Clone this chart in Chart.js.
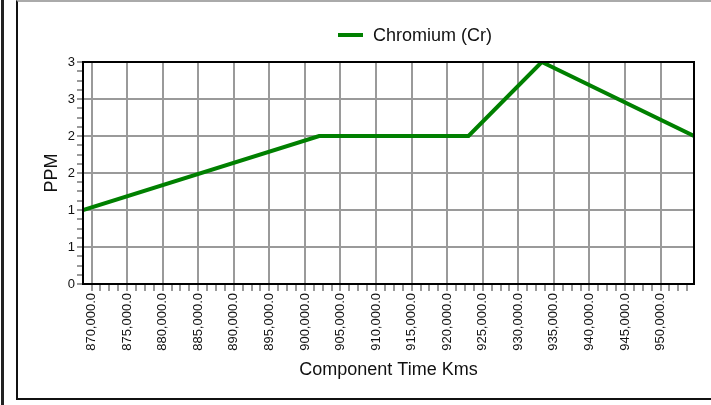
<!DOCTYPE html>
<html>
<head>
<meta charset="utf-8">
<script src="https://cdn.jsdelivr.net/npm/chart.js@4"></script>
<style>
    body { margin: 0; background: #fff; font-family: "Liberation Sans", Arial, sans-serif; }
    #wrap { position: relative; width: 711px; height: 405px; overflow: hidden; }
    #edge { position: absolute; left: 1px; top: 0; width: 3px; height: 405px; background: #222; }
    #frame { position: absolute; left: 16px; top: 0; width: 720px; height: 396px;
             border-left: 2px solid #111; border-bottom: 2px solid #111; border-top: 2px solid #aaa; box-sizing: border-box; height: 400px; }
    #legend { position: absolute; left: 338px; top: 24px; height: 22px; display: flex; align-items: center;
              font-size: 18px; color: #111; white-space: nowrap; }
    #legend span.swatch { display: inline-block; width: 25px; height: 4px; background: #008000; margin-right: 10px; }
    canvas { position: absolute; left: 0; top: 0; }
</style>
</head>
<body>
<div id="wrap">
    <div id="edge"></div>
    <div id="frame"></div>
    <canvas id="chart" width="711" height="405"></canvas>
    <div id="legend"><span class="swatch"></span>Chromium (Cr)</div>
</div>
<script>
// readings
const kms = [868800, 902000, 912500, 923000, 933300, 954700];
const chromium = [1.0, 2.0, 2.0, 2.0, 3.0, 2.0];

const yMajorTicks = [0, 0.5, 1, 1.5, 2, 2.5, 3];
const yTickLabels = ['0', '1', '1', '2', '2', '3', '3'];
const xMajorStep = 5000;
const xMinorStep = 1250;
const yMinorStep = 0.125;

function isMajorX(v) {
    return Math.abs(v % xMajorStep) < 1e-6;
}
function majorYIndex(v) {
    return yMajorTicks.findIndex(t => Math.abs(t - v) < 1e-6);
}

const plotFrame = {
    id: 'plotFrame',
    afterDraw(chart) {
        const a = chart.chartArea;
        const ctx = chart.ctx;
        ctx.save();
        ctx.strokeStyle = '#000';
        ctx.lineWidth = 2;
        ctx.strokeRect(a.left, a.top, a.right - a.left, a.bottom - a.top);
        ctx.restore();
    }
};

const ctx = document.getElementById('chart').getContext('2d');

new Chart(ctx, {
    type: 'line',
    data: {
        datasets: [{
            label: 'Chromium (Cr)',
            data: kms.map((x, i) => ({ x: x, y: chromium[i] })),
            borderColor: '#008000',
            backgroundColor: '#008000',
            borderWidth: 4,
            pointRadius: 0,
            tension: 0
        }]
    },
    options: {
        responsive: false,
        animation: false,
        layout: { padding: { left: 37, right: 17, top: 62, bottom: 20 } },
        plugins: {
            legend: { display: false },
            tooltip: { enabled: false }
        },
        scales: {
            x: {
                type: 'linear',
                min: kms[0],
                max: kms[kms.length - 1],
                afterBuildTicks(scale) {
                    const ticks = [];
                    const start = Math.ceil(scale.min / xMinorStep) * xMinorStep;
                    for (let v = start; v <= scale.max; v += xMinorStep) {
                        ticks.push({ value: v });
                    }
                    scale.ticks = ticks;
                },
                afterFit(scale) { scale.height = 101; },
                border: { display: false },
                grid: {
                    color: c => (c.tick && isMajorX(c.tick.value)) ? '#9a9a9a' : 'rgba(0,0,0,0)',
                    lineWidth: 2,
                    tickColor: '#9a9a9a',
                    tickLength: 7,
                    tickWidth: 2
                },
                ticks: {
                    autoSkip: false,
                    minRotation: 90,
                    maxRotation: 90,
                    padding: 2,
                    color: '#111',
                    font: { family: 'Liberation Sans', size: 13 },
                    callback: v => isMajorX(v)
                        ? v.toLocaleString('en-US', { minimumFractionDigits: 1, maximumFractionDigits: 1 })
                        : ''
                },
                title: {
                    display: true,
                    text: 'Component Time Kms',
                    color: '#111',
                    font: { family: 'Liberation Sans', size: 18 }
                }
            },
            y: {
                min: 0,
                max: 3,
                afterBuildTicks(scale) {
                    const ticks = [];
                    for (let i = 0; i * yMinorStep <= scale.max + 1e-9; i++) {
                        ticks.push({ value: i * yMinorStep });
                    }
                    scale.ticks = ticks;
                },
                afterFit(scale) { scale.width = 46; },
                border: { display: false },
                grid: {
                    color: c => (c.tick && majorYIndex(c.tick.value) >= 0) ? '#9a9a9a' : 'rgba(0,0,0,0)',
                    lineWidth: 2,
                    tickColor: '#9a9a9a',
                    tickLength: 6,
                    tickWidth: 2
                },
                ticks: {
                    autoSkip: false,
                    padding: 2,
                    color: '#111',
                    font: { family: 'Liberation Sans', size: 13 },
                    callback: v => {
                        const i = majorYIndex(v);
                        return i >= 0 ? yTickLabels[i] : '';
                    }
                },
                title: {
                    display: true,
                    text: 'PPM',
                    color: '#111',
                    font: { family: 'Liberation Sans', size: 18 }
                }
            }
        }
    },
    plugins: [plotFrame]
});
</script>
</body>
</html>
